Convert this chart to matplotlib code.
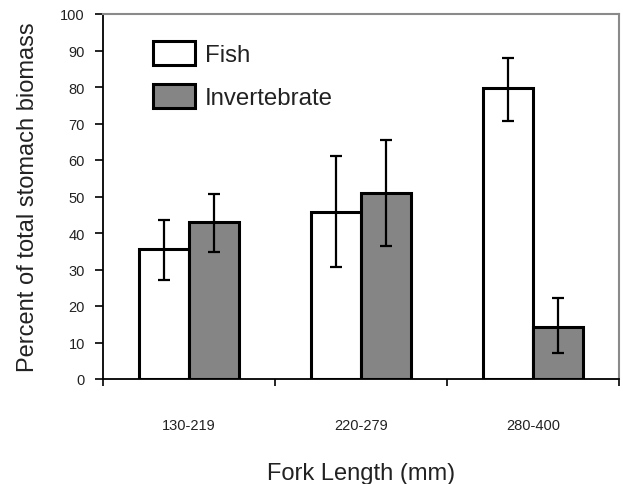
import matplotlib
matplotlib.use("Agg")
import matplotlib.pyplot as plt
import numpy as np

categories = ["130-219", "220-279", "280-400"]
fish = [35.5, 45.8, 79.6]
fish_lo = [27.0, 30.6, 70.8]
fish_hi = [43.5, 61.2, 87.9]
invert = [43.0, 51.0, 14.3]
invert_lo = [34.7, 36.4, 7.2]
invert_hi = [50.7, 65.6, 22.3]

plt.rcParams['font.family'] = ['Liberation Sans', 'DejaVu Sans']

fig = plt.figure(figsize=(6.23, 4.85), dpi=100)
ax = fig.add_axes([103/623, 1-380/485, (619-103)/623, (380-15)/485])

x = np.arange(len(categories)) + 0.5
w = 0.29
err_kw = dict(ecolor='black', elinewidth=1.6, capsize=4, capthick=1.6)
fy = np.array(fish)
iy = np.array(invert)
ax.bar(x - w/2, fish, w, color='white', edgecolor='black', linewidth=2.2, label='Fish',
       yerr=[fy - np.array(fish_lo), np.array(fish_hi) - fy], error_kw=err_kw, zorder=2)
ax.bar(x + w/2, invert, w, color='#858585', edgecolor='black', linewidth=2.2, label='Invertebrate',
       yerr=[iy - np.array(invert_lo), np.array(invert_hi) - iy], error_kw=err_kw, zorder=2)

ax.set_xlim(0, 3)
ax.set_ylim(0, 100)
ax.set_yticks(np.arange(0, 101, 10))
ax.set_xticks([0, 1, 2, 3])
ax.set_xticklabels([])
ax.set_xticks(x, minor=True)
ax.set_xticklabels(categories, minor=True)
ax.tick_params(axis='x', which='minor', length=0, pad=28, labelsize=10.5, labelcolor='#222222')
ax.tick_params(axis='x', which='major', length=5, width=1.2, direction='out')
ax.tick_params(axis='y', length=6, width=1.2, direction='out', pad=7, labelsize=10.5, labelcolor='#222222')

for s in ['left', 'bottom']:
    ax.spines[s].set_color('black')
    ax.spines[s].set_linewidth(1.3)
for s in ['top', 'right']:
    ax.spines[s].set_color('#8a8a8a')
    ax.spines[s].set_linewidth(1.5)

ax.set_ylabel('Percent of total stomach biomass', fontsize=17, color='#222222', labelpad=15)
ax.set_xlabel('Fork Length (mm)', fontsize=17, color='#222222', labelpad=22)

leg = ax.legend(loc='upper left', bbox_to_anchor=(0.078, 0.953), frameon=False, fontsize=17.3,
                handlelength=1.75, handleheight=1.15, labelspacing=0.75, handletextpad=0.4,
                borderaxespad=0)
for t in leg.get_texts():
    t.set_color('#222222')

fig.savefig('out.png', dpi=100)
